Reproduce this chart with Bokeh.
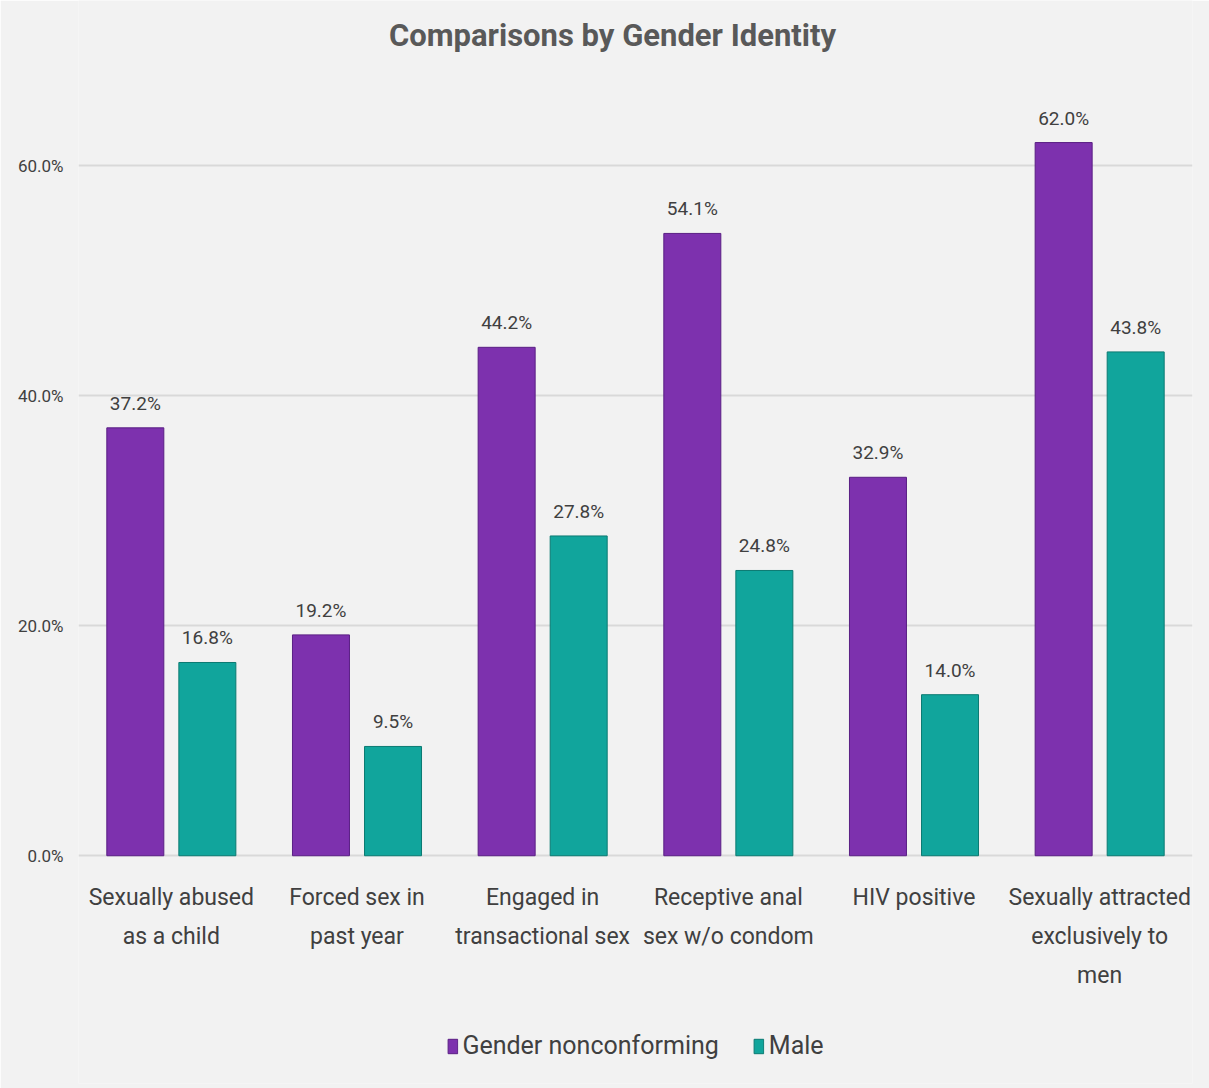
from bokeh.plotting import figure
from bokeh.models import ColumnDataSource, FactorRange, FixedTicker, NumeralTickFormatter, Legend, LegendItem, Label
from bokeh.core.properties import value
from bokeh.transform import dodge
from bokeh.embed import file_html
from bokeh.resources import INLINE

categories = ["Sexually abused\nas a child", "Forced sex in\npast year", "Engaged in\ntransactional sex",
              "Receptive anal\nsex w/o condom", "HIV positive", "Sexually attracted\nexclusively to\nmen"]
gender_nonconforming = [0.372, 0.192, 0.442, 0.541, 0.329, 0.620]
male = [0.168, 0.095, 0.278, 0.248, 0.140, 0.438]
yticks = [0.0, 0.2, 0.4, 0.6]
title_text = "Comparisons by Gender Identity"

FONT = "Roboto"
TXT = "#404040"
PURPLE = "#7D31AE"
TEAL = "#11A59C"

src = ColumnDataSource(dict(
    cat=categories, gn=gender_nonconforming, m=male,
    zero=[0.0] * len(categories),
    gn_lbl=[f"{v*100:.1f}%" for v in gender_nonconforming],
    m_lbl=[f"{v*100:.1f}%" for v in male],
))

p = figure(width=1209, height=1088, x_range=FactorRange(*categories), y_range=(-0.198, 0.7435),
           output_backend="svg", toolbar_location=None,
           background_fill_color="#F2F2F2", border_fill_color="#F2F2F2",
           min_border_left=78, min_border_right=17, min_border_top=0, min_border_bottom=5)
p.outline_line_color = None
p.xaxis.visible = False

title = Label(x=3, y=0.713, text=title_text, text_align="center", text_baseline="middle",
              x_offset=-23, text_font=FONT, text_font_size="31px", text_font_style="bold",
              text_color="#595959")
p.add_layout(title)

r1 = p.vbar(x=dodge("cat", -0.194, range=p.x_range), top="gn", width=0.307, source=src,
            fill_color=PURPLE, line_color="#5A1F84", line_width=1)
r2 = p.vbar(x=dodge("cat", 0.194, range=p.x_range), top="m", width=0.307, source=src,
            fill_color=TEAL, line_color="#0B7A72", line_width=1)

p.text(x=dodge("cat", -0.194, range=p.x_range), y="gn", text="gn_lbl", source=src,
       text_align="center", text_baseline="bottom", y_offset=-13,
       text_font_size="19px", text_color=TXT, text_font=value(FONT))
p.text(x=dodge("cat", 0.194, range=p.x_range), y="m", text="m_lbl", source=src,
       text_align="center", text_baseline="bottom", y_offset=-13,
       text_font_size="19px", text_color=TXT, text_font=value(FONT))

# category labels
p.text(x="cat", y="zero", text="cat", source=src, text_align="center", text_baseline="top",
       y_offset=28, text_font_size="23px", text_color=TXT, text_font=value(FONT),
       text_line_height=1.45)

p.yaxis.ticker = FixedTicker(ticks=yticks)
p.yaxis.formatter = NumeralTickFormatter(format="0.0%")
p.yaxis.major_label_text_font = FONT
p.yaxis.major_label_text_font_size = "17px"
p.yaxis.major_label_text_color = TXT
p.yaxis.axis_line_color = None
p.yaxis.major_tick_line_color = None
p.yaxis.minor_tick_line_color = None
p.yaxis.major_label_standoff = 9

p.xgrid.grid_line_color = None
p.ygrid.grid_line_color = "#D9D9D9"
p.ygrid.grid_line_width = 2
p.ygrid.ticker = FixedTicker(ticks=yticks)

legend = Legend(items=[LegendItem(label="Gender nonconforming", renderers=[r1]),
                       LegendItem(label="Male", renderers=[r2])],
                orientation="horizontal", location="bottom_center", margin=23,
                label_text_font=FONT, label_text_font_size="25px", label_text_color=TXT,
                glyph_width=12, glyph_height=18, spacing=34, label_standoff=4,
                background_fill_alpha=0, border_line_color=None)
p.add_layout(legend, "center")

open("out.html", "w").write(file_html(p, INLINE))
